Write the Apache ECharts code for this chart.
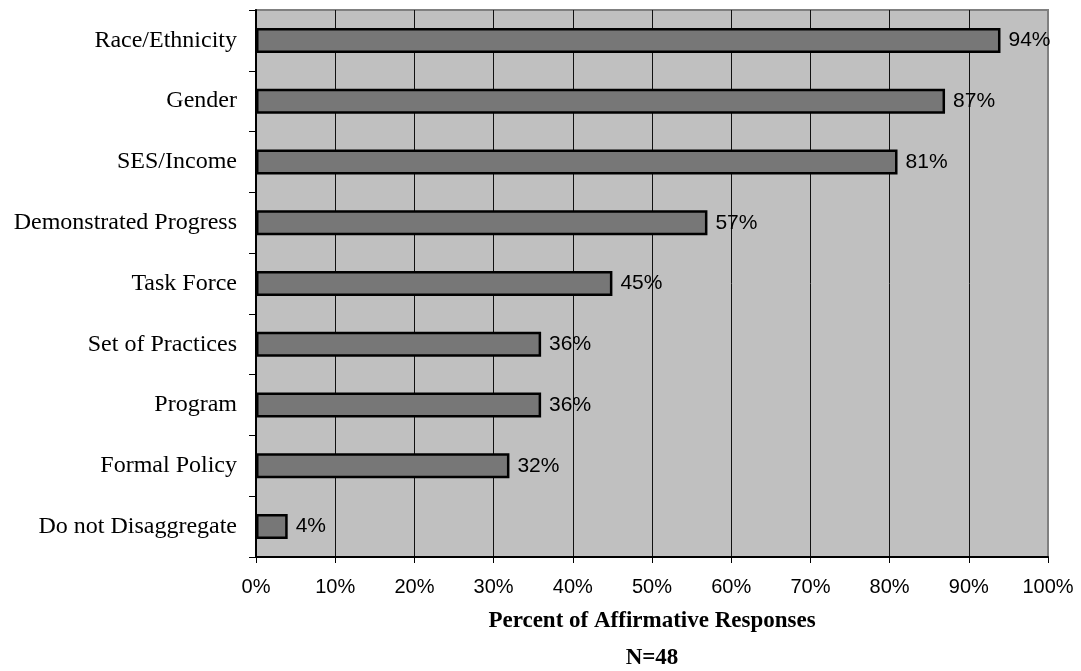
<!DOCTYPE html>
<html>
<head>
<meta charset="utf-8">
<style>
  html, body { margin: 0; padding: 0; background: #ffffff; }
  #chart { width: 1081px; height: 671px; }
</style>
<script src="https://cdn.jsdelivr.net/npm/echarts@6/dist/echarts.min.js"></script>
</head>
<body>
<div id="chart"></div>
<script>
// Kinds of disaggregation reported, top to bottom
const categories = [
  'Race/Ethnicity',
  'Gender',
  'SES/Income',
  'Demonstrated Progress',
  'Task Force',
  'Set of Practices',
  'Program',
  'Formal Policy',
  'Do not Disaggregate'
];
// Share of affirmative responses, percent
const percents = [94, 87, 81, 57, 45, 36, 36, 32, 4];
const axisTitle = 'Percent of Affirmative Responses';
const sampleNote = 'N=48';

const serif = '"Liberation Serif", "DejaVu Serif", serif';
const sans = '"Liberation Sans", Arial, sans-serif';

const chart = echarts.init(document.getElementById('chart'), null, { renderer: 'canvas' });

chart.setOption({
  backgroundColor: '#ffffff',
  animation: false,
  grid: {
    left: 256,
    right: 33,
    top: 10,
    bottom: 114,
    containLabel: false,
    outerBoundsMode: 'none',
    show: true,
    backgroundColor: '#c0c0c0',
    borderColor: '#808080',
    borderWidth: 2
  },
  xAxis: {
    type: 'value',
    min: 0,
    max: 100,
    interval: 10,
    axisLine: { show: true, onZero: false, lineStyle: { color: '#000', width: 2 } },
    axisTick: { show: true, length: 6, lineStyle: { color: '#000', width: 1 } },
    axisLabel: {
      formatter: '{value}%',
      color: '#000',
      fontFamily: sans,
      fontSize: 20,
      margin: 20
    },
    splitLine: {
      show: true,
      showMinLine: false,
      showMaxLine: false,
      lineStyle: { color: '#111', width: 1 }
    },
    name: axisTitle + '\n' + sampleNote,
    nameLocation: 'middle',
    nameGap: 46,
    nameTextStyle: {
      color: '#000',
      fontFamily: serif,
      fontWeight: 'bold',
      fontSize: 23,
      lineHeight: 37,
      verticalAlign: 'top'
    }
  },
  yAxis: {
    type: 'category',
    data: categories,
    inverse: true,
    axisLine: { show: true, lineStyle: { color: '#000', width: 2 } },
    axisTick: { show: true, length: 7, lineStyle: { color: '#000', width: 1 } },
    axisLabel: {
      color: '#000',
      fontFamily: serif,
      fontSize: 24,
      margin: 19
    },
    splitLine: { show: false }
  },
  series: [{
    type: 'bar',
    data: percents,
    barWidth: 25,
    itemStyle: {
      color: '#777777',
      borderColor: '#000',
      borderWidth: 2.5
    },
    label: {
      show: true,
      position: 'right',
      distance: 8,
      formatter: '{c}%',
      color: '#000',
      fontFamily: sans,
      fontSize: 21
    }
  }]
});
</script>
</body>
</html>
